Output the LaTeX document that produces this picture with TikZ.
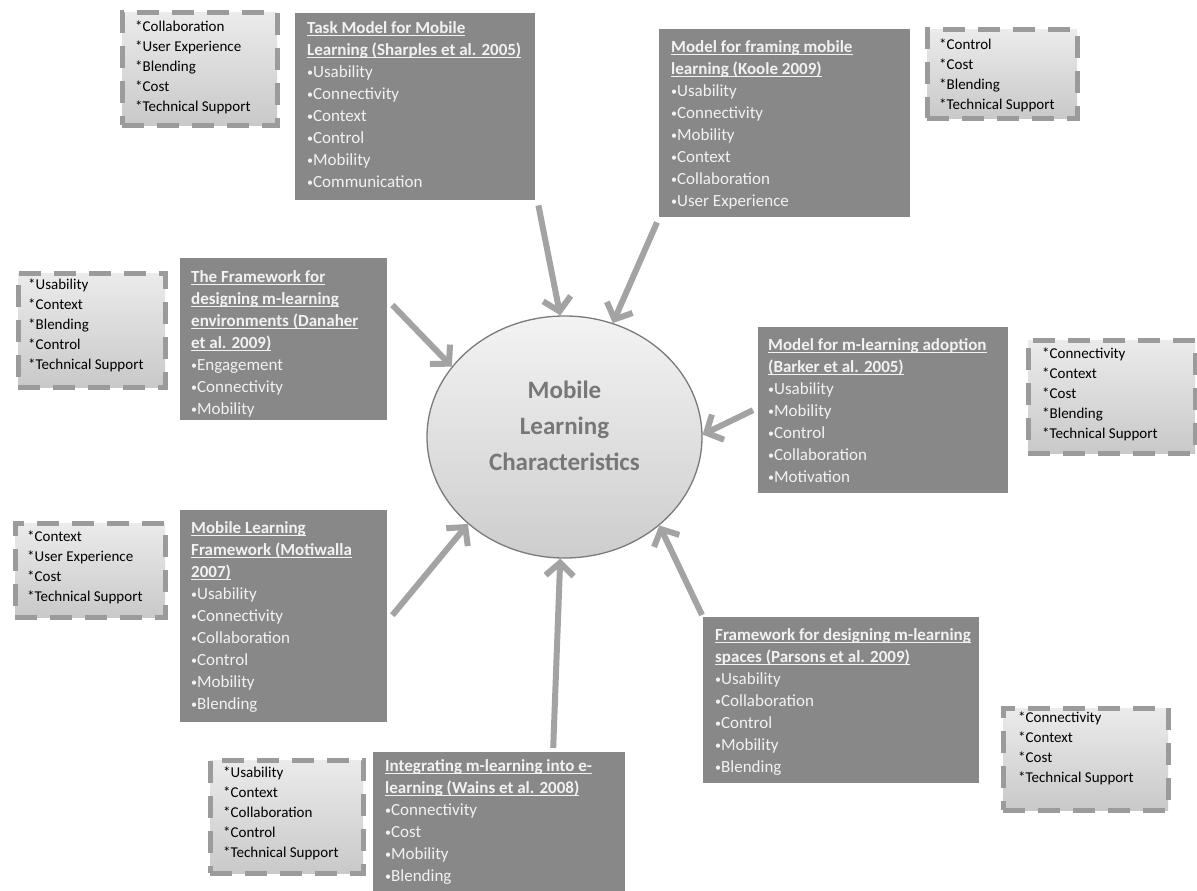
\documentclass[tikz,border=0pt]{standalone}
\usepackage{fontspec}
\setmainfont{Carlito}
\usetikzlibrary{shapes.geometric,arrows.meta,calc}
\definecolor{boxgray}{HTML}{888888}
\definecolor{arrgray}{HTML}{A3A3A3}
\definecolor{dashgray}{HTML}{9B9B9B}
\definecolor{lighttop}{HTML}{EBEBEB}
\definecolor{lightbot}{HTML}{C9C9C9}
\definecolor{elltop}{HTML}{F3F3F3}
\definecolor{ellbot}{HTML}{CDCDCD}
\definecolor{ellline}{HTML}{7A7A7A}
\definecolor{elltext}{HTML}{777777}
\definecolor{boxtext}{HTML}{F2F2F2}
\newcommand\myul[1]{\setbox0\hbox{\bfseries #1}\rlap{\rule[-2.6pt]{\wd0}{1.1pt}}\box0}
\newcommand\bu{\raisebox{1.2pt}{\fontsize{12}{12}\selectfont •}}
\begin{document}
\begin{tikzpicture}[x=1pt,y=-1pt,
  darkbox/.style={draw=none, fill=boxgray, inner sep=0pt, anchor=north west},
  lightbox/.style={draw=dashgray, line width=5pt, dash pattern=on 22pt off 13pt,
     top color=lighttop, bottom color=lightbot, inner sep=0pt, anchor=north west},
  dtext/.style={anchor=north west, inner sep=0pt, align=left, text=boxtext,
     font=\fontsize{17}{22}\selectfont},
  ltext/.style={anchor=north west, inner sep=0pt, align=left, text=black,
     font=\fontsize{15}{19.8}\selectfont},
  arr/.style={draw=arrgray, line width=6pt, -{Straight Barb[length=13pt,width=28pt]}}
]
\useasboundingbox (0,0) rectangle (1197,891);
\fill[white] (0,0) rectangle (1197,891);

% central ellipse
\node[ellipse, draw=ellline, line width=1.3pt, top color=elltop, bottom color=ellbot,
      minimum width=275pt, minimum height=242pt, inner sep=0pt] (ell) at (564.5,437) {};
\node[align=center, inner sep=0pt, text=elltext, font=\fontsize{25}{36}\selectfont\bfseries]
      (ellT) at (564.5,426) {Mobile\\Learning\\Characteristics};

% dark boxes
\node[darkbox, minimum width=240pt, minimum height=187pt] (sharples) at (295,13) {};
\node[dtext] (sharplesT) at (307,21.5) {\myul{Task Model for Mobile}\\\myul{Learning (Sharples et al. 2005)}\\\bu Usability\\\bu Connectivity\\\bu Context\\\bu Control\\\bu Mobility\\\bu Communication};

\node[darkbox, minimum width=251pt, minimum height=188pt] (koole) at (659,29) {};
\node[dtext] (kooleT) at (671,40.5) {\myul{Model for framing mobile}\\\myul{learning (Koole 2009)}\\\bu Usability\\\bu Connectivity\\\bu Mobility\\\bu Context\\\bu Collaboration\\\bu User Experience};

\node[darkbox, minimum width=207pt, minimum height=162pt] (danaher) at (180,258) {};
\node[dtext] (danaherT) at (191,270.5) {\myul{The Framework for}\\\myul{designing m-learning}\\\myul{environments (Danaher}\\\myul{et al. 2009)}\\\bu Engagement\\\bu Connectivity\\\bu Mobility};

\node[darkbox, minimum width=250pt, minimum height=166pt] (barker) at (758,327) {};
\node[dtext] (barkerT) at (768,338.5) {\myul{Model for m-learning adoption}\\\myul{(Barker et al. 2005)}\\\bu Usability\\\bu Mobility\\\bu Control\\\bu Collaboration\\\bu Motivation};

\node[darkbox, minimum width=207pt, minimum height=212pt] (motiwalla) at (180,510) {};
\node[dtext] (motiwallaT) at (191,521.5) {\myul{Mobile Learning}\\\myul{Framework (Motiwalla}\\\myul{2007)}\\\bu Usability\\\bu Connectivity\\\bu Collaboration\\\bu Control\\\bu Mobility\\\bu Blending};

\node[darkbox, minimum width=252pt, minimum height=139pt] (wains) at (373,752) {};
\node[dtext] (wainsT) at (385,759.5) {\myul{Integrating m-learning into e-}\\\myul{learning (Wains et al. 2008)}\\\bu Connectivity\\\bu Cost\\\bu Mobility\\\bu Blending};

\node[darkbox, minimum width=276pt, minimum height=166pt] (parsons) at (703,617) {};
\node[dtext] (parsonsT) at (715,628.5) {\myul{Framework for designing m-learning}\\\myul{spaces (Parsons et al. 2009)}\\\bu Usability\\\bu Collaboration\\\bu Control\\\bu Mobility\\\bu Blending};

% light dashed boxes
\node[lightbox, minimum width=155pt, minimum height=112pt] (la) at (119.5,10.5) {};
\node[ltext] (laT) at (135,21) {*Collaboration\\*User Experience\\*Blending\\*Cost\\*Technical Support};

\node[lightbox, minimum width=150pt, minimum height=88pt] (lb) at (924.5,27.5) {};
\node[ltext] (lbT) at (939,39) {*Control\\*Cost\\*Blending\\*Technical Support};

\node[lightbox, minimum width=147pt, minimum height=114pt] (lc) at (15.5,270.5) {};
\node[ltext] (lcT) at (28,279) {*Usability\\*Context\\*Blending\\*Control\\*Technical Support};

\node[lightbox, minimum width=167pt, minimum height=113pt] (ld) at (1025.5,337.5) {};
\node[ltext] (ldT) at (1042,348) {*Connectivity\\*Context\\*Cost\\*Blending\\*Technical Support};

\node[lightbox, minimum width=150pt, minimum height=94pt] (le) at (12.5,520.5) {};
\node[ltext] (leT) at (27,531) {*Context\\*User Experience\\*Cost\\*Technical Support};

\node[lightbox, minimum width=153pt, minimum height=113pt] (lf) at (207.5,757.5) {};
\node[ltext] (lfT) at (223,767) {*Usability\\*Context\\*Collaboration\\*Control\\*Technical Support};

\node[lightbox, minimum width=165pt, minimum height=102pt] (lg) at (1000.5,705.5) {};
\node[ltext] (lgT) at (1018,712) {*Connectivity\\*Context\\*Cost\\*Technical Support};

% arrows
\draw[arr] ([shift={(3,5)}]sharples.south east) -- (ell.92);
\draw[arr] ([shift={(-2,5)}]koole.south west) -- (ell.67);
\draw[arr] ([shift={(5,47)}]danaher.north east) -- (ell.148);
\draw[arr] ([shift={(-5,0)}]barker.west) -- (ell.1);
\draw[arr] ([shift={(5,-1)}]motiwalla.east) -- (ell.222);
\draw[arr] ([shift={(54,-4)}]wains.north) -- (ell.268);
\draw[arr] ([shift={(-1,-2)}]parsons.north west) -- (ell.317);
\end{tikzpicture}
\end{document}
